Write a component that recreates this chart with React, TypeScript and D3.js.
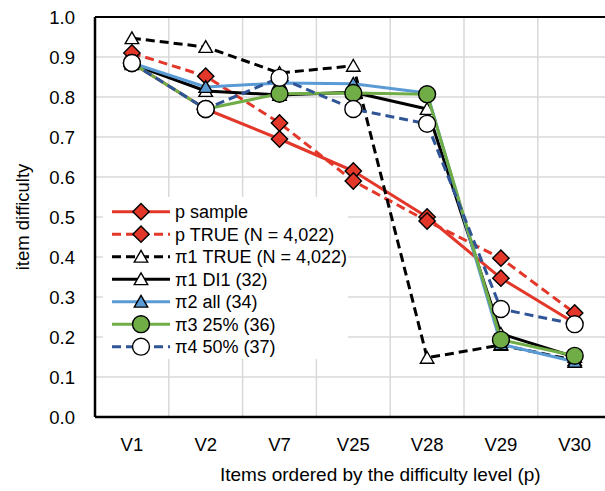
import React from 'react';
import * as d3 from 'd3';

const categories = ['V1', 'V2', 'V7', 'V25', 'V28', 'V29', 'V30'];
const yTicks = [0, 0.1, 0.2, 0.3, 0.4, 0.5, 0.6, 0.7, 0.8, 0.9, 1.0];

const pSample = [0.885, 0.77, 0.695, 0.615, 0.5, 0.347, 0.235];
const pTrue = [0.91, 0.852, 0.735, 0.59, 0.49, 0.397, 0.26];
const pi1True = [0.947, 0.925, 0.86, 0.878, 0.148, 0.18, 0.142];
const pi1Di1 = [0.882, 0.815, 0.805, 0.812, 0.77, 0.208, 0.15];
const pi2All = [0.885, 0.825, 0.835, 0.833, 0.81, 0.182, 0.138];
const pi3 = [0.885, 0.77, 0.808, 0.81, 0.807, 0.193, 0.153];
const pi4 = [0.885, 0.77, 0.848, 0.77, 0.733, 0.27, 0.232];

type Marker = 'diamond' | 'triangle' | 'circle';
interface Series {
  name: string;
  values: number[];
  color: string;
  dashed: boolean;
  marker: Marker;
  fill: string;
}

const series: Series[] = [
  { name: 'p sample', values: pSample, color: '#e3372a', dashed: false, marker: 'diamond', fill: '#e3372a' },
  { name: 'p TRUE (N = 4,022)', values: pTrue, color: '#e3372a', dashed: true, marker: 'diamond', fill: '#e3372a' },
  { name: 'π1 TRUE (N = 4,022)', values: pi1True, color: '#000000', dashed: true, marker: 'triangle', fill: '#ffffff' },
  { name: 'π1 DI1 (32)', values: pi1Di1, color: '#000000', dashed: false, marker: 'triangle', fill: '#ffffff' },
  { name: 'π2 all (34)', values: pi2All, color: '#5b9bd5', dashed: false, marker: 'triangle', fill: '#5b9bd5' },
  { name: 'π3 25% (36)', values: pi3, color: '#70ad47', dashed: false, marker: 'circle', fill: '#70ad47' },
  { name: 'π4 50% (37)', values: pi4, color: '#2f5597', dashed: true, marker: 'circle', fill: '#ffffff' },
];

const FONT = '"Liberation Sans", Arial, sans-serif';

const symbolFor = (m: Marker) => {
  if (m === 'diamond') return d3.symbol(d3.symbolDiamond2, 170)();
  if (m === 'triangle') return d3.symbol(d3.symbolTriangle2, 130)();
  return d3.symbol(d3.symbolCircle, 225)();
};

const MarkerShape = ({ s, x, y }: { s: Series; x: number; y: number }) => {
  const path = symbolFor(s.marker) as string;
  const dy = s.marker === 'triangle' ? 1.5 : 0;
  return (
    <path
      d={path}
      transform={`translate(${x},${y + dy})`}
      fill={s.fill}
      stroke="#000"
      strokeWidth={1.4}
      strokeLinejoin="miter"
    />
  );
};

const App = () => {
  const width = 605;
  const height = 491;
  const left = 95;
  const right = 611.6;
  const top = 17;
  const bottom = 417;

  const x = d3.scaleBand<string>().domain(categories).range([left, right]);
  const y = d3.scaleLinear().domain([0, 1]).range([bottom, top]);
  const cx = (c: string) => (x(c) as number) + x.bandwidth() / 2;

  const line = d3
    .line<number>()
    .x((_, i) => cx(categories[i]))
    .y(d => y(d));

  const legendX = 103;
  const legendY = 197;
  const rowH = 22.5;

  return (
    <svg width={width} height={height} style={{ position: 'absolute', left: 0, top: 0 }}>
      <rect width={width} height={height} fill="#fff" />
      {/* grid */}
      {yTicks.slice(1).map(t => (
        <line key={'gy' + t} x1={left} x2={right} y1={y(t)} y2={y(t)} stroke="#d9d9d9" strokeWidth={1.5} />
      ))}
      {categories.map(c => (
        <line key={'gx' + c} x1={(x(c) as number) + x.bandwidth()} x2={(x(c) as number) + x.bandwidth()} y1={top} y2={bottom} stroke="#d9d9d9" strokeWidth={1.5} />
      ))}
      {/* frame */}
      <line x1={left} x2={right} y1={top} y2={top} stroke="#000" strokeWidth={2} />
      <line x1={left} x2={right} y1={bottom} y2={bottom} stroke="#000" strokeWidth={2.5} />
      <line x1={left} x2={left} y1={top} y2={bottom} stroke="#000" strokeWidth={2.5} />

      {/* y tick labels */}
      {yTicks.map(t => (
        <text key={'ty' + t} x={75} y={y(t)} dy="0.36em" textAnchor="end" fontFamily={FONT} fontSize={18.5} fill="#000">
          {t.toFixed(1)}
        </text>
      ))}
      {categories.map(c => (
        <text key={'tx' + c} x={cx(c)} y={451} textAnchor="middle" fontFamily={FONT} fontSize={18.5} fill="#000">
          {c}
        </text>
      ))}
      <text x={220} y={481} textAnchor="start" fontFamily={FONT} fontSize={19} fill="#000">
        Items ordered by the difficulty level (p)
      </text>
      <text transform={`translate(29,217) rotate(-90)`} textAnchor="middle" fontFamily={FONT} fontSize={18.5} fill="#000">
        item difficulty
      </text>

      {/* series */}
      {series.map(s => (
        <g key={s.name}>
          <path
            d={line(s.values) as string}
            fill="none"
            stroke={s.color}
            strokeWidth={3}
            strokeDasharray={s.dashed ? '9,5' : undefined}
            strokeLinejoin="round"
          />
          {s.values.map((v, i) => (
            <MarkerShape key={i} s={s} x={cx(categories[i])} y={y(v)} />
          ))}
        </g>
      ))}

      {/* legend */}
      <rect x={legendX} y={legendY} width={245} height={162} fill="#fff" />
      {series.map((s, i) => {
        const ly = 211.7 + i * rowH;
        return (
          <g key={'lg' + s.name}>
            <line x1={112} x2={170} y1={ly} y2={ly} stroke={s.color} strokeWidth={3} strokeDasharray={s.dashed ? '9,5' : undefined} />
            <MarkerShape s={s} x={141} y={ly} />
            <text x={175} y={ly} dy="0.36em" fontFamily={FONT} fontSize={18} fill="#000">
              {s.name}
            </text>
          </g>
        );
      })}
    </svg>
  );
};

export default App;
